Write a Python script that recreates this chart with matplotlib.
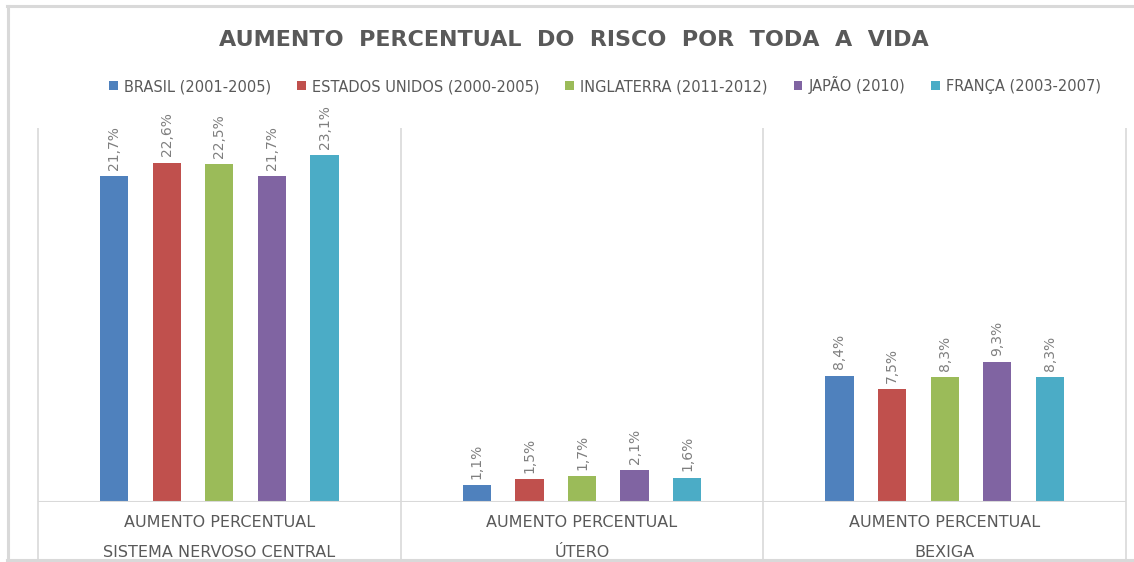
#!/usr/bin/env python3

import numpy as np
import matplotlib.pyplot as plt
from matplotlib.lines import Line2D

plt.rcParams["font.family"] = ["DejaVu Sans"]

categories = ["SISTEMA NERVOSO CENTRAL", "ÚTERO", "BEXIGA"]
top_label = "AUMENTO PERCENTUAL"
series = [
    "BRASIL (2001-2005)",
    "ESTADOS UNIDOS (2000-2005)",
    "INGLATERRA (2011-2012)",
    "JAPÃO (2010)",
    "FRANÇA (2003-2007)",
]
brasil = [21.7, 1.1, 8.4]
eua = [22.6, 1.5, 7.5]
inglaterra = [22.5, 1.7, 8.3]
japao = [21.7, 2.1, 9.3]
franca = [23.1, 1.6, 8.3]
values = [brasil, eua, inglaterra, japao, franca]

colors = ["#4f81bd", "#c0504d", "#9bbb59", "#8064a2", "#4bacc6"]
grid_col = "#d9d9d9"
text_col = "#595959"
label_col = "#7f7f7f"

W, H = 1134, 562
fig = plt.figure(figsize=(W / 100, H / 100), dpi=100)

# outer frame (top, left, bottom)
for xs, ys in [([7 / W, 1], [1 - 6 / H] * 2), ([7.5 / W] * 2, [1 - 6 / H, 2 / H]),
               ([7 / W, 1], [2 / H] * 2)]:
    fig.add_artist(Line2D(xs, ys, color=grid_col, lw=2.2))

ax = fig.add_axes([38 / W, 1 - 502 / H, (1126 - 38) / W, (502 - 128) / H])
ax.set_xlim(-0.5, 2.5)
ax.set_ylim(0, 24.93)
for s in ax.spines.values():
    s.set_visible(False)
ax.set_xticks([])
ax.set_yticks([])

x = np.arange(len(categories))
step = 0.145
width = 0.078
for i, (name, vals) in enumerate(zip(series, values)):
    pos = x + (i - 2) * step
    ax.bar(pos, vals, width, color=colors[i], label=name, zorder=3)
    for px, v in zip(pos, vals):
        ax.annotate(f"{v:.1f}%".replace(".", ","), (px, v), xytext=(0, 5),
                    textcoords="offset points", rotation=90, ha="center",
                    va="bottom", fontsize=10, color=label_col)

# baseline and separators
ax.axhline(0, color=grid_col, lw=1.5, zorder=4)
ax.vlines([-0.5, 0.5, 1.5, 2.5], -0.155, 1, transform=ax.get_xaxis_transform(),
          color=grid_col, lw=1.2, clip_on=False)

for xi, cat in zip(x, categories):
    ax.text(xi, -0.056, top_label, transform=ax.get_xaxis_transform(),
            ha="center", va="center", fontsize=11.5, color=text_col)
    ax.text(xi, -0.134, cat, transform=ax.get_xaxis_transform(),
            ha="center", va="center", fontsize=11.5, color=text_col)

fig.text(574 / W, 1 - 40 / H, "AUMENTO  PERCENTUAL  DO  RISCO  POR  TODA  A  VIDA",
         ha="center", va="center", fontsize=16, fontweight="bold", color=text_col)

fig.legend(loc="center", bbox_to_anchor=(605 / W, 1 - 85 / H), ncol=5,
           frameon=False, fontsize=10.5, handlelength=0.6, handleheight=0.6,
           handletextpad=0.4, columnspacing=1.8, labelcolor=text_col)

fig.savefig("out.png", dpi=100)
